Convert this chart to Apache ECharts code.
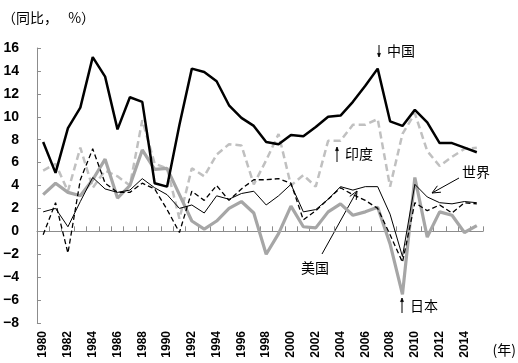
<!DOCTYPE html>
<html>
<head>
<meta charset="utf-8">
<script src="https://cdn.jsdelivr.net/npm/echarts@6/dist/echarts.min.js"></script>
<style>
html,body{margin:0;padding:0;background:#fff;}
#c{width:518px;height:363px;}
</style>
</head>
<body>
<div id="c"></div>
<script>
const years = ['1980','1981','1982','1983','1984','1985','1986','1987','1988','1989',
  '1990','1991','1992','1993','1994','1995','1996','1997','1998','1999',
  '2000','2001','2002','2003','2004','2005','2006','2007','2008','2009',
  '2010','2011','2012','2013','2014','2015'];
const china = [7.8,5.1,9.0,10.8,15.2,13.5,8.9,11.7,11.3,4.2,3.9,9.3,14.2,13.9,13.1,11.0,9.9,9.2,7.8,7.6,8.4,8.3,9.1,10.0,10.1,11.3,12.7,14.2,9.6,9.2,10.6,9.5,7.7,7.7,7.3,6.9];
const india = [5.3,5.9,3.5,7.3,3.8,5.3,4.8,4.0,9.7,5.9,5.5,1.1,5.5,4.8,6.7,7.6,7.5,4.1,6.2,8.5,4.0,4.9,3.9,7.9,7.9,9.3,9.3,9.8,3.9,8.5,10.3,7.0,5.7,6.5,7.2,7.3];
const japan = [3.2,4.2,3.4,3.1,4.5,6.3,2.9,4.0,7.1,5.4,5.5,3.2,0.9,0.2,0.9,2.0,2.6,1.6,-2.0,-0.2,2.2,0.4,0.3,1.7,2.4,1.4,1.7,2.1,-1.1,-5.5,4.7,-0.5,1.7,1.4,-0.1,0.5];
const usa = [-0.3,2.5,-1.9,4.5,7.2,4.2,3.4,3.4,4.2,3.7,1.9,-0.1,3.5,2.7,4.0,2.7,3.7,4.5,4.5,4.6,4.2,1.0,1.8,2.8,3.8,3.2,2.7,2.0,-0.3,-2.7,2.5,1.8,2.3,1.6,2.5,2.4];
const world = [1.7,2.0,0.4,2.6,4.7,3.7,3.4,3.6,4.6,3.8,3.2,2.0,2.3,1.6,3.1,2.8,3.3,3.5,2.3,3.1,4.1,1.7,1.9,2.8,3.9,3.6,3.9,3.9,1.5,-2.2,4.1,3.0,2.5,2.4,2.6,2.5];
const yMin = -8, yMax = 16, yStep = 2;

const chart = echarts.init(document.getElementById('c'), null, {renderer:'canvas'});
const numFont = 'Liberation Sans, Arial, sans-serif';
const cjkFont = 'Noto Sans CJK SC, sans-serif';

function arrowGraphic(x1, y1, x2, y2, head, filled) {
  const dx = x2 - x1, dy = y2 - y1;
  const L = Math.sqrt(dx*dx + dy*dy);
  const ux = dx / L, uy = dy / L;
  const a = 0.42;
  const p1 = [x2 - head*(ux*Math.cos(a) - uy*Math.sin(a)), y2 - head*(uy*Math.cos(a) + ux*Math.sin(a))];
  const p2 = [x2 - head*(ux*Math.cos(a) + uy*Math.sin(a)), y2 - head*(uy*Math.cos(a) - ux*Math.sin(a))];
  const out = [{type:'line', shape:{x1:x1,y1:y1,x2:x2,y2:y2}, style:{stroke:'#000', lineWidth:1}}];
  if (filled) {
    out.push({type:'polygon', shape:{points:[p1,[x2,y2],p2]}, style:{fill:'#000', stroke:'#000', lineWidth:0.5}});
  } else {
    out.push({type:'polyline', shape:{points:[p1,[x2,y2],p2]}, style:{stroke:'#000', lineWidth:1, fill:null}});
  }
  return out;
}

function txt(x, y, s, align) {
  return {type:'text', x:x, y:y, style:{text:s, font:'14px ' + cjkFont, fill:'#000', align:align||'left', verticalAlign:'middle'}};
}

const graphics = [].concat(
  [txt(2, 18, '（同比，　 %）')],
  [txt(516, 350, '(年)', 'right')],
  arrowGraphic(379, 45, 379, 57, 4, true), [txt(387, 51, '中国')],
  arrowGraphic(337, 162, 337, 147, 4, true), [txt(345, 154, '印度')],
  arrowGraphic(402, 313, 402, 298, 4, true), [txt(410, 306, '日本')],
  [txt(462, 172, '世界')],
  arrowGraphic(459, 178, 432, 193, 9, false),
  [txt(301, 268, '美国')],
  arrowGraphic(322, 254, 357, 191, 9, false)
);

chart.setOption({
  animation: false,
  backgroundColor: '#fff',
  grid: {left: 33, right: 35, top: 48, bottom: 40, containLabel: false},
  xAxis: [{
    type: 'category', data: years, boundaryGap: true, position: 'bottom',
    axisLine: {show: true, onZero: true, lineStyle: {color: '#8c8c8c', width: 1}},
    axisTick: {show: true, inside: true, length: 5, interval: 0, lineStyle: {color: '#8c8c8c'}},
    axisLabel: {show: false}, splitLine: {show: false}
  }, {
    type: 'category', data: years, boundaryGap: true, position: 'bottom',
    axisLine: {show: false, onZero: false}, axisTick: {show: false},
    axisLabel: {show: true, interval: 1, rotate: 90, margin: 8, fontSize: 12, fontWeight: 'bold', fontFamily: numFont, color: '#000'},
    splitLine: {show: false}
  }],
  yAxis: {
    type: 'value', min: yMin, max: yMax, interval: yStep,
    axisLine: {show: true, lineStyle: {color: '#8c8c8c', width: 1}},
    axisTick: {show: true, inside: true, length: 4, lineStyle: {color: '#8c8c8c'}},
    axisLabel: {margin: 18, fontSize: 14, fontWeight: 'bold', fontFamily: numFont, color: '#000',
      formatter: v => String(v).replace('-', '−')},
    splitLine: {show: false}
  },
  series: [
    {name:'印度', type:'line', data: india, symbol:'none', lineStyle:{color:'#c0c0c0', width:2.5, type:[7,4]}, z:2},
    {name:'日本', type:'line', data: japan, symbol:'none', lineStyle:{color:'#a6a6a6', width:3.2}, z:3},
    {name:'世界', type:'line', data: world, symbol:'none', lineStyle:{color:'#000', width:1}, z:4},
    {name:'美国', type:'line', data: usa, symbol:'none', lineStyle:{color:'#000', width:1.3, type:[5,3]}, z:5},
    {name:'中国', type:'line', data: china, symbol:'none', lineStyle:{color:'#000', width:2.5}, z:6}
  ],
  graphic: graphics
});
</script>
</body>
</html>
